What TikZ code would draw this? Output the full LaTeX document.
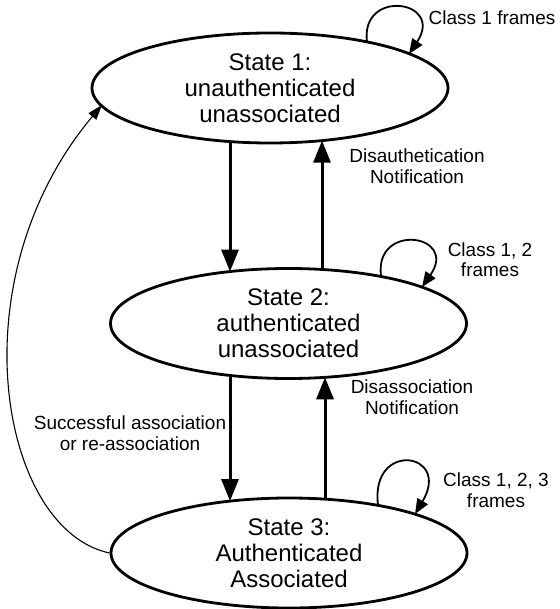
\documentclass[tikz,border=0pt]{standalone}
\usepackage{fontspec}
\setmainfont{Liberation Sans}
\usetikzlibrary{shapes.geometric,arrows.meta,calc}
\begin{document}
\begin{tikzpicture}[x=1pt,y=-1pt,
  state/.style={draw,ellipse,line width=2.8pt,minimum width=356pt,minimum height=110pt,inner sep=0pt,align=center,font=\fontsize{24pt}{26pt}\selectfont},
  lbl/.style={align=center,inner sep=0pt,font=\fontsize{19pt}{20.5pt}\selectfont},
  bigarr/.style={line width=3pt,-{Triangle[length=22pt,width=17pt]}},
  looparr/.style={line width=1.8pt,-{Triangle[length=15pt,width=12pt]}},
  thinarr/.style={line width=1.1pt,-{Triangle[length=15pt,width=10pt]}}]
\useasboundingbox (0,0) rectangle (559,609);
\fill[white] (0,0) rectangle (559,609);

\node[state] (e1) at (270,88) {State 1:\\unauthenticated\\unassociated};
\node[state] (e2) at (288.5,323.5) {State 2:\\authenticated\\unassociated};
\node[state] (e3) at (289,553) {State 3:\\Authenticated\\Associated};

% vertical transitions
\draw[bigarr] ($(e1.center)+(-40,53.6)$) -- ($(e2.center)+(-58.5,-51.9)$);
\draw[bigarr] ($(e2.center)+(33.5,-54)$) -- ($(e1.center)+(52,52.6)$);
\draw[bigarr] ($(e2.center)+(-58.5,51.9)$) -- ($(e3.center)+(-59,-51.9)$);
\draw[bigarr] ($(e3.center)+(36,-53.9)$) -- ($(e2.center)+(36.5,53.8)$);

% self loops
\draw[looparr] ($(e1.center)+(97,-46)$) .. controls (360,-12) and (445,0) .. ($(e1.center)+(139,-34)$);
\draw[looparr] ($(e2.center)+(92.5,-47.5)$) .. controls (374,222) and (459,234) .. ($(e2.center)+(133.5,-36.5)$);
\draw[looparr] ($(e3.center)+(89,-48)$) .. controls (370,440) and (452,452) .. ($(e3.center)+(126,-39)$);

% return curve
\draw[thinarr] (e3.west) .. controls (0,530) and (-45,280) .. ($(e1.center)+(-168,17)$);

% labels
\node[lbl] (l1) at (492,18) {Class 1 frames};
\node[lbl] (l2) at (490,259.5) {Class 1, 2\\frames};
\node[lbl] (l3) at (496,490) {Class 1, 2, 3\\frames};
\node[lbl] (l4) at (417,166) {Disauthetication\\Notification};
\node[lbl] (l5) at (412,397) {Disassociation\\Notification};
\node[lbl] (l6) at (130,433) {Successful association\\or re-association};
\end{tikzpicture}
\end{document}
